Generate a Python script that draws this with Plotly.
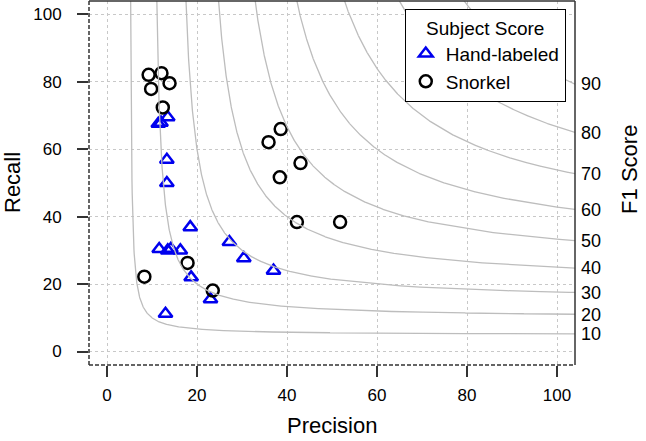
import numpy as np
import plotly.graph_objects as go

# ---- data ----
hand_precision = [11.4, 12.0, 13.5, 13.3, 13.3, 18.5, 11.6, 13.5, 14.2, 16.3, 27.2, 30.4, 37.0, 18.7, 23.0, 13.0]
hand_recall    = [67.6, 67.9, 69.5, 56.9, 50.0, 36.9, 30.4, 30.0, 30.5, 30.0, 32.5, 27.7, 24.0, 22.0, 15.5, 11.2]

snorkel_precision = [9.25, 12.1, 13.9, 9.8, 12.4, 35.9, 38.6, 43.0, 38.4, 42.2, 51.8, 17.9, 8.3, 23.5]
snorkel_recall    = [82.1, 82.6, 79.6, 77.9, 72.4, 62.1, 66.0, 55.9, 51.7, 38.4, 38.4, 26.3, 22.2, 18.1]

f1_levels = [10, 20, 30, 40, 50, 60, 70, 80, 90]
axis_ticks = [0, 20, 40, 60, 80, 100]

LO, HI = -4, 104
FONT = "Liberation Sans, Arial, Helvetica, sans-serif"

fig = go.Figure()

# iso-F1 reference curves
def recall_for(f, p):
    return f * p / (2 * p - f)

right_vals = []
for f in f1_levels:
    p = np.linspace(f / 2 + 1e-3, HI, 2000)
    r = recall_for(f, p)
    mask = r <= HI + 5
    fig.add_trace(go.Scatter(x=p[mask], y=r[mask], mode="lines",
                             line=dict(color="#bdbdbd", width=1.3),
                             showlegend=False, hoverinfo="skip", yaxis="y2"))
    right_vals.append(recall_for(f, HI))

fig.add_trace(go.Scatter(x=hand_precision, y=hand_recall, mode="markers",
                         name="Hand-labeled",
                         marker=dict(symbol="triangle-up-open", size=12, color="#0000ee",
                                     line=dict(width=2.5, color="#0000ee"))))
fig.add_trace(go.Scatter(x=snorkel_precision, y=snorkel_recall, mode="markers",
                         name="Snorkel",
                         marker=dict(symbol="circle-open", size=12, color="black",
                                     line=dict(width=2.5, color="black"))))

grid = dict(showgrid=True, gridcolor="#c8c8c8", griddash="3px,3px", gridwidth=1,
            zeroline=False, showline=False, automargin=False)

fig.update_layout(
    width=646, height=441,
    margin=dict(l=89, r=71, t=1, b=76),
    paper_bgcolor="white", plot_bgcolor="white",
    font=dict(family=FONT, size=17, color="black"),
    xaxis=dict(range=[LO, HI], tickvals=axis_ticks, ticks="outside", ticklen=11,
               tickcolor="#333", tickwidth=1.5, ticklabelstandoff=4,
               tickfont=dict(size=17), **grid),
    yaxis=dict(range=[LO, HI], tickvals=axis_ticks, ticks="outside", ticklen=11,
               tickcolor="#333", tickwidth=1.5, ticklabelstandoff=12,
               tickfont=dict(size=17), **grid),
    yaxis2=dict(range=[LO, HI], overlaying="y", side="right", tickvals=right_vals,
                ticktext=[str(f) for f in f1_levels], ticks="", showgrid=False,
                zeroline=False, showline=False, ticklabelstandoff=5, automargin=False,
                tickfont=dict(size=18)),
    legend=dict(x=0.981, y=0.978, xanchor="right", yanchor="top",
                bordercolor="black", borderwidth=1, bgcolor="white",
                font=dict(size=19), tracegroupgap=0,
                title=dict(text="Subject Score", side="top center", font=dict(size=19))),
    showlegend=True,
)

# plot box: top/right solid, left/bottom dashed
edge = dict(color="#333333", width=1.5)
fig.add_shape(type="line", xref="paper", yref="paper", x0=0, x1=1, y0=1, y1=1, line=edge)
fig.add_shape(type="line", xref="paper", yref="paper", x0=1, x1=1, y0=0, y1=1, line=edge)
fig.add_shape(type="line", xref="paper", yref="paper", x0=0, x1=1, y0=0, y1=0,
              line=dict(color="#333333", width=1.5, dash="4px,2px"))
fig.add_shape(type="line", xref="paper", yref="paper", x0=0, x1=0, y0=0, y1=1,
              line=dict(color="#333333", width=1.5, dash="4px,2px"))

fig.add_annotation(text="Precision", xref="paper", yref="paper", x=0.5, y=-0.165,
                   showarrow=False, font=dict(size=22), yanchor="middle")
fig.add_annotation(text="Recall", xref="paper", yref="paper", x=(12 - 89) / 486, y=0.5,
                   showarrow=False, font=dict(size=22), textangle=-90, xanchor="center")
fig.add_annotation(text="F1 Score", xref="paper", yref="paper", x=(630 - 89) / 486, y=0.536,
                   showarrow=False, font=dict(size=22), textangle=-90, xanchor="center")

fig.write_html("out.html", config={"displayModeBar": False},
               post_script="document.body.style.margin='0px';document.body.style.padding='0px';")
